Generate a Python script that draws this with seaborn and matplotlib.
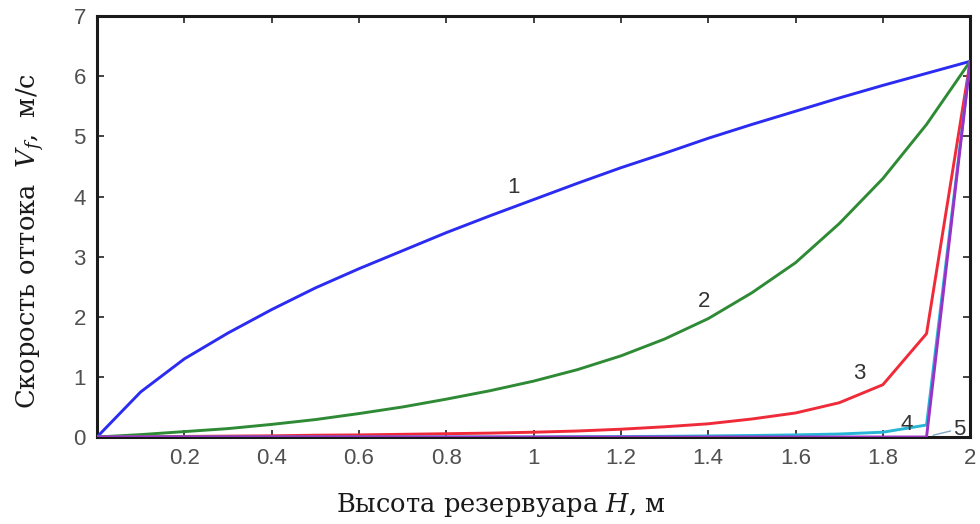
import matplotlib
matplotlib.use("Agg")
import matplotlib.pyplot as plt
import seaborn as sns
import pandas as pd

# Reservoir height H, m
height = [0.0, 0.1, 0.2, 0.3, 0.4, 0.5, 0.6, 0.7, 0.8, 0.9, 1.0,
          1.1, 1.2, 1.3, 1.4, 1.5, 1.6, 1.7, 1.8, 1.9, 2.0]

# Outflow velocity V_f, m/s, for regimes 1..5
v1 = [0.0, 0.75, 1.30, 1.73, 2.12, 2.48, 2.80, 3.10, 3.40, 3.68, 3.95,
      4.22, 4.48, 4.72, 4.97, 5.20, 5.42, 5.64, 5.85, 6.05, 6.25]
v2 = [0.0, 0.04, 0.09, 0.14, 0.21, 0.29, 0.39, 0.50, 0.63, 0.77, 0.93,
      1.12, 1.35, 1.63, 1.97, 2.40, 2.90, 3.55, 4.30, 5.20, 6.25]
v3 = [0.0, 0.005, 0.01, 0.015, 0.02, 0.03, 0.035, 0.045, 0.055, 0.065, 0.08,
      0.10, 0.13, 0.17, 0.22, 0.30, 0.40, 0.57, 0.87, 1.72, 6.25]
v4 = [0.0, 0.0, 0.0, 0.0, 0.0, 0.0, 0.0, 0.0, 0.0, 0.0, 0.0,
      0.005, 0.008, 0.012, 0.018, 0.025, 0.035, 0.05, 0.08, 0.20, 6.25]
v5 = [0.0, 0.0, 0.0, 0.0, 0.0, 0.0, 0.0, 0.0, 0.0, 0.0, 0.0,
      0.0, 0.0, 0.0, 0.0, 0.0, 0.0, 0.0, 0.0, 0.0, 6.25]

curve_names = ["1", "2", "3", "4", "5"]
curve_colors = ["#2b2bf2", "#2f8a35", "#ef2b3a", "#27b6d6", "#9a32c8"]
label_pos = [(0.955, 4.15), (1.39, 2.25), (1.745, 1.05), (1.855, 0.2), (1.975, 0.12)]

x_ticks = [0.2, 0.4, 0.6, 0.8, 1.0, 1.2, 1.4, 1.6, 1.8, 2.0]
x_tick_labels = ["0.2", "0.4", "0.6", "0.8", "1", "1.2", "1.4", "1.6", "1.8", "2"]
y_ticks = [0, 1, 2, 3, 4, 5, 6, 7]

sns.set_style("ticks")
plt.rcParams["font.family"] = ["Liberation Sans", "DejaVu Sans"]
plt.rcParams["mathtext.fontset"] = "dejavuserif"

fig = plt.figure(figsize=(9.8, 5.24), dpi=100)
ax = fig.add_axes([0.099, 0.166, 0.891, 0.803])

frames = []
for name, vals in zip(curve_names, [v1, v2, v3, v4, v5]):
    frames.append(pd.DataFrame({"H": height, "V": vals, "curve": name}))
df = pd.concat(frames, ignore_index=True)

for name, color in zip(curve_names, curve_colors):
    sub = df[df["curve"] == name]
    sns.lineplot(data=sub, x="H", y="V", color=color, linewidth=2.1,
                 ax=ax, legend=False, zorder=3 if name != "5" else 4)

for name, (lx, ly) in zip(curve_names, label_pos):
    ax.text(lx, ly, name, fontsize=16, color="#333333", ha="center", va="center",
            zorder=5)
# leader line for curve 5
ax.plot([1.915, 1.955], [0.03, 0.1], color="#7fa7c8", linewidth=1.0, zorder=5)

ax.set_xlim(0, 2.0)
ax.set_ylim(0, 7)
ax.set_xticks(x_ticks)
ax.set_xticklabels(x_tick_labels)
ax.set_yticks(y_ticks)
ax.tick_params(direction="in", length=5, width=1.2, colors="#222222",
               labelcolor="#505050", labelsize=16, top=True, right=True,
               pad=8)
for s in ax.spines.values():
    s.set_linewidth(2.2)
    s.set_color("#1a1a1a")

ax.set_xlabel("")
ax.set_ylabel("")
serif = ["DejaVu Serif"]
fig.text(0.511, 0.037, "Высота резервуара $\\mathit{H}$, м", ha="center", va="center",
         fontsize=18.5, family=serif, color="#1a1a1a")
fig.text(0.031, 0.54, "Скорость оттока  $\\mathit{V_f}$,  м/с", ha="center", va="center",
         rotation=90, fontsize=18.5, family=serif, color="#1a1a1a")

fig.savefig("out.png", dpi=100)
